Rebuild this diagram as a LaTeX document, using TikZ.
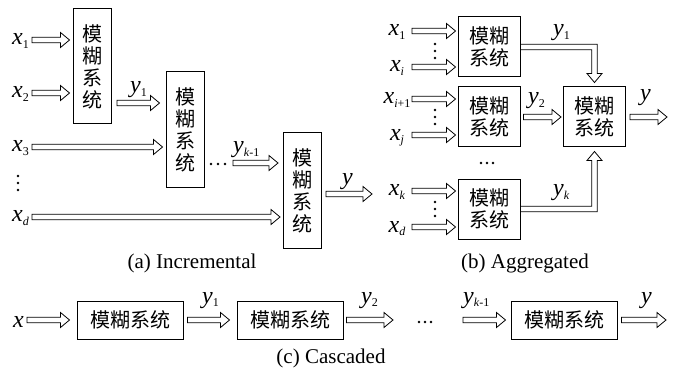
\documentclass[tikz,border=0pt]{standalone}
\usepackage{fontspec}
\setmainfont{Liberation Serif}
\newfontfamily\cjk{Noto Sans CJK SC}
\usetikzlibrary{calc}
\newcommand{\vx}[2]{\textit{#1}\raisebox{-3.5pt}{\fontsize{12}{12}\selectfont #2}}
% hollow horizontal arrow: start, end, start gap, end gap
\newcommand{\harr}[4]{\draw[arr] let \p1=(#1), \p2=(#2) in
  (\x1+#3,\y1+2.8pt) -- (\x2-#4-9pt,\y1+2.8pt) -- (\x2-#4-9pt,\y1+7.5pt) -- (\x2-#4,\y1)
  -- (\x2-#4-9pt,\y1-7.5pt) -- (\x2-#4-9pt,\y1-2.8pt) -- (\x1+#3,\y1-2.8pt) -- cycle;}
\begin{document}
\begin{tikzpicture}[x=1pt,y=-1pt,
  vbox/.style={draw, line width=1pt, inner sep=0pt, minimum width=38pt, minimum height=115pt,
    font=\cjk\fontsize{20}{22}\selectfont, align=center},
  sbox/.style={draw, line width=1pt, inner sep=0pt, minimum width=62pt, minimum height=60pt,
    font=\cjk\fontsize{20}{22}\selectfont, align=center},
  hbox/.style={draw, line width=1pt, inner sep=0pt, minimum width=106pt, minimum height=38pt,
    font=\cjk\fontsize{20}{22}\selectfont},
  lab/.style={inner sep=0pt, font=\fontsize{24}{26}\selectfont},
  captext/.style={inner sep=0pt, font=\fontsize{21}{24}\selectfont},
  arr/.style={draw, fill=white, line width=0.8pt, line join=miter},
  dotfill/.style={fill=black}
]
\useasboundingbox (0,0) rectangle (673,369);

% ---------- (a) Incremental ----------
\node[vbox] (A1) at (92,66.5) {模\\糊\\系\\统};
\node[vbox] (A2) at (185,129.5) {模\\糊\\系\\统};
\node[vbox] (A3) at (302.5,190.5) {模\\糊\\系\\统};
\node[lab, anchor=base west] (ax1) at (12,45) {\vx{x}{1}};
\node[lab, anchor=base west] (ax2) at (12,98) {\vx{x}{2}};
\node[lab, anchor=base west] (ax3) at (12,152) {\vx{x}{3}};
\node[lab, anchor=base west] (axd) at (12,222) {\vx{x}{\textit{d}}};
\node[lab, anchor=base west] (ay1) at (130,93) {\vx{y}{1}};
\node[lab, anchor=base west] (ayk) at (233,153) {\vx{y}{\textit{k}-1}};
\node[lab, anchor=base west] (ay) at (342,185) {\textit{y}};
\coordinate (as1) at (32,40);
\coordinate (as2) at (32,93);
\coordinate (as3) at (32,147);
\coordinate (asd) at (32,217);
\coordinate (at1) at (117,103);
\coordinate (at2) at (233,163);
\coordinate (aout) at (372,194);
\harr{as1}{as1 -| A1.west}{0pt}{3pt}
\harr{as2}{as2 -| A1.west}{0pt}{3pt}
\harr{as3}{as3 -| A2.west}{0pt}{3pt}
\harr{asd}{asd -| A3.west}{0pt}{3pt}
\harr{at1}{at1 -| A2.west}{0pt}{6pt}
\harr{at2}{at2 -| A3.west}{0pt}{5pt}
\harr{aout -| A3.east}{aout}{4pt}{0pt}
\foreach \yy in {176,183,190} \fill[dotfill] (18,\yy) circle (1.3);
\foreach \xx in {211,218,225} \fill[dotfill] (\xx,164) circle (1.3);
\node[captext] (capa) at (192,263) {(a) Incremental};

% ---------- (b) Aggregated ----------
\node[sbox] (B1) at (489,47) {模糊\\系统};
\node[sbox] (B2) at (489,117) {模糊\\系统};
\node[sbox] (B3) at (489,209) {模糊\\系统};
\node[sbox] (BB) at (594.5,117) {模糊\\系统};
\node[lab, anchor=base] (bx1) at (397,36) {\vx{x}{1}};
\node[lab, anchor=base] (bxi) at (397,72) {\vx{x}{\textit{i}}};
\node[lab, anchor=base] (bxi1) at (397,104) {\vx{x}{\textit{i}+1}};
\node[lab, anchor=base] (bxj) at (397,140) {\vx{x}{\textit{j}}};
\node[lab, anchor=base] (bxk) at (397,196) {\vx{x}{\textit{k}}};
\node[lab, anchor=base] (bxd) at (397,232) {\vx{x}{\textit{d}}};
\node[lab, anchor=base west] (by1) at (553,36) {\vx{y}{1}};
\node[lab, anchor=base west] (by2) at (528,104) {\vx{y}{2}};
\node[lab, anchor=base west] (byk) at (553,196) {\vx{y}{\textit{k}}};
\node[lab, anchor=base west] (by) at (640,101) {\textit{y}};
\coordinate (bs1) at (412,31);
\coordinate (bsi) at (412,67);
\coordinate (bsi1) at (412,99);
\coordinate (bsj) at (412,135);
\coordinate (bsk) at (412,191);
\coordinate (bsd) at (412,227);
\harr{bs1}{bs1 -| B1.west}{0pt}{2pt}
\harr{bsi}{bsi -| B1.west}{0pt}{2pt}
\harr{bsi1}{bsi1 -| B2.west}{0pt}{2pt}
\harr{bsj}{bsj -| B2.west}{0pt}{2pt}
\harr{bsk}{bsk -| B3.west}{0pt}{2pt}
\harr{bsd}{bsd -| B3.west}{0pt}{2pt}
\foreach \yy in {44,51,58,110,117,124,202,209,216} \fill[dotfill] (435,\yy) circle (1.3);
\foreach \xx in {481,487,493} \fill[dotfill] (\xx,163) circle (1.3);
% y1: from B1 right, across and down into BB
\draw[arr] let \p1=(B1.east), \p2=(BB.north) in
  (\x1,\y1+2.8pt) -- (\x2+2.8pt,\y1+2.8pt) -- (\x2+2.8pt,\y2+13pt) -- (\x2+7.5pt,\y2+13pt)
  -- (\x2,\y2+4pt) -- (\x2-7.5pt,\y2+13pt) -- (\x2-2.8pt,\y2+13pt) -- (\x2-2.8pt,\y1-2.8pt)
  -- (\x1,\y1-2.8pt) -- cycle;
% yk: from B3 right, across and up into BB
\draw[arr] let \p1=(B3.east), \p2=(BB.south) in
  (\x1,\y1-2.8pt) -- (\x2+2.8pt,\y1-2.8pt) -- (\x2+2.8pt,\y2-13pt) -- (\x2+7.5pt,\y2-13pt)
  -- (\x2,\y2-4pt) -- (\x2-7.5pt,\y2-13pt) -- (\x2-2.8pt,\y2-13pt) -- (\x2-2.8pt,\y1+2.8pt)
  -- (\x1,\y1+2.8pt) -- cycle;
\harr{B2.east}{BB.west}{3pt}{2pt}
\coordinate (bout) at (667,117);
\harr{BB.east}{bout}{4pt}{0pt}
\node[captext] (capb) at (525,263) {(b) Aggregated};

% ---------- (c) Cascaded ----------
\node[hbox] (C1) at (130,320) {模糊系统};
\node[hbox] (C2) at (290,320) {模糊系统};
\node[hbox] (C3) at (564,320) {模糊系统};
\node[lab, anchor=base west] (cx) at (13,327) {\textit{x}};
\node[lab, anchor=base west] (cy1) at (202,303) {\vx{y}{1}};
\node[lab, anchor=base west] (cy2) at (361,303) {\vx{y}{2}};
\node[lab, anchor=base west] (cyk) at (463,303) {\vx{y}{\textit{k}-1}};
\node[lab, anchor=base west] (cy) at (641,303) {\textit{y}};
\coordinate (cs) at (27,320);
\coordinate (c2o) at (393,320);
\coordinate (cks) at (463,320);
\coordinate (cout) at (666,320);
\harr{cs}{C1.west}{0pt}{7pt}
\harr{C1.east}{C2.west}{4pt}{7pt}
\harr{C2.east}{c2o}{3pt}{0pt}
\harr{cks}{C3.west}{0pt}{5pt}
\harr{C3.east}{cout}{4pt}{0pt}
\foreach \xx in {419,425,431} \fill[dotfill] (\xx,322) circle (1.3);
\node[captext] (capc) at (331,358) {(c) Cascaded};
\end{tikzpicture}
\end{document}
